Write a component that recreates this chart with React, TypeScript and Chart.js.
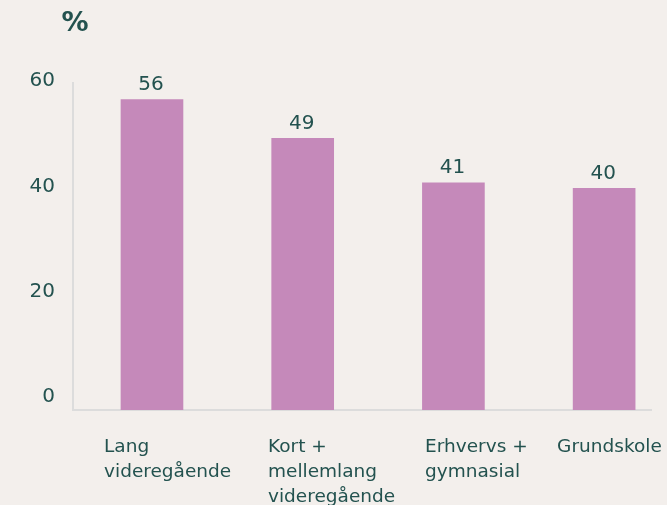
import React, { useEffect, useRef } from 'react';
import { Chart, registerables } from 'chart.js';

Chart.register(...registerables);

const CATEGORIES: string[][] = [
  ['Lang', 'videregående'],
  ['Kort +', 'mellemlang', 'videregående'],
  ['Erhvervs +', 'gymnasial'],
  ['Grundskole'],
];
const VALUES: number[] = [56, 49, 41, 40];
const Y_TICKS: number[] = [0, 20, 40, 60];
const UNIT_LABEL = '%';

// layout / style
const LABEL_SHIFT = [-0.318, -0.23, -0.188, -0.312];
const BG = '#f3efec';
const BAR = '#c589ba';
const TEXT = '#23524f';
const AXIS = '#dcdcdc';
const FONT = "'DejaVu Sans', sans-serif";

export default function App() {
  const ref = useRef<HTMLCanvasElement | null>(null);

  useEffect(() => {
    document.body.style.margin = '0';
    document.body.style.background = BG;
    const canvas = ref.current;
    if (!canvas) return;

    const valueLabels = {
      id: 'valueLabels',
      afterDatasetsDraw(chart: any) {
        const ctx = chart.ctx;
        const meta = chart.getDatasetMeta(0);
        ctx.save();
        ctx.fillStyle = TEXT;
        ctx.font = `20px ${FONT}`;
        ctx.textAlign = 'center';
        ctx.textBaseline = 'bottom';
        meta.data.forEach((el: any, i: number) => {
          ctx.fillText(String(VALUES[i]), el.x - 1, el.y - 5);
        });
        ctx.font = `bold 27px ${FONT}`;
        ctx.textBaseline = 'middle';
        ctx.fillText(UNIT_LABEL, chart.chartArea.left + 2, 24);
        ctx.restore();
      },
    };

    const chart = new Chart(canvas, {
      type: 'bar',
      data: {
        datasets: [
          {
            data: VALUES.map((v, i) => ({ x: i, y: v })),
            backgroundColor: BAR,
            barThickness: 62,
            borderWidth: 0,
          },
        ],
      },
      options: {
        animation: false,
        responsive: false,
        maintainAspectRatio: false,
        layout: { padding: { top: 83, right: 16, left: 0, bottom: 0 } },
        plugins: {
          legend: { display: false },
          tooltip: { enabled: false },
          title: { display: false },
        },
        scales: {
          x: {
            type: 'linear',
            offset: false,
            min: -0.524,
            max: 3.311,
            grid: { display: false, drawTicks: false },
            border: { display: true, color: AXIS, width: 2 },
            afterBuildTicks: (scale: any) => {
              scale.ticks = CATEGORIES.map((_, i) => ({ value: i + LABEL_SHIFT[i] }));
            },
            afterFit: (scale: any) => {
              scale.height = 95;
              scale.paddingLeft = 0;
              scale.paddingRight = 0;
            },
            ticks: {
              autoSkip: false,
              maxRotation: 0,
              minRotation: 0,
              align: 'start',
              padding: 25,
              color: TEXT,
              font: { family: FONT, size: 18.5, lineHeight: '25px' },
              callback: (_v: any, i: number) => CATEGORIES[i],
            },
          },
          y: {
            display: false,
            min: 0,
            max: 59,
          },
          y2: {
            type: 'linear',
            position: 'left',
            min: -2.09,
            max: 60,
            grid: { display: false, drawTicks: false },
            border: { display: true, color: AXIS, width: 2 },
            afterBuildTicks: (scale: any) => {
              scale.ticks = Y_TICKS.map((v) => ({ value: v }));
            },
            afterFit: (scale: any) => {
              scale.width = 73;
              scale.paddingTop = 0;
              scale.paddingBottom = 0;
            },
            ticks: {
              padding: 18,
              labelOffset: -2,
              color: TEXT,
              font: { family: FONT, size: 20 },
            },
          },
        },
      } as any,
      plugins: [valueLabels],
    });

    return () => chart.destroy();
  }, []);

  return (
    <div style={{ width: 667, height: 505, background: BG }}>
      <canvas ref={ref} width={667} height={505} style={{ display: 'block' }} />
    </div>
  );
}
